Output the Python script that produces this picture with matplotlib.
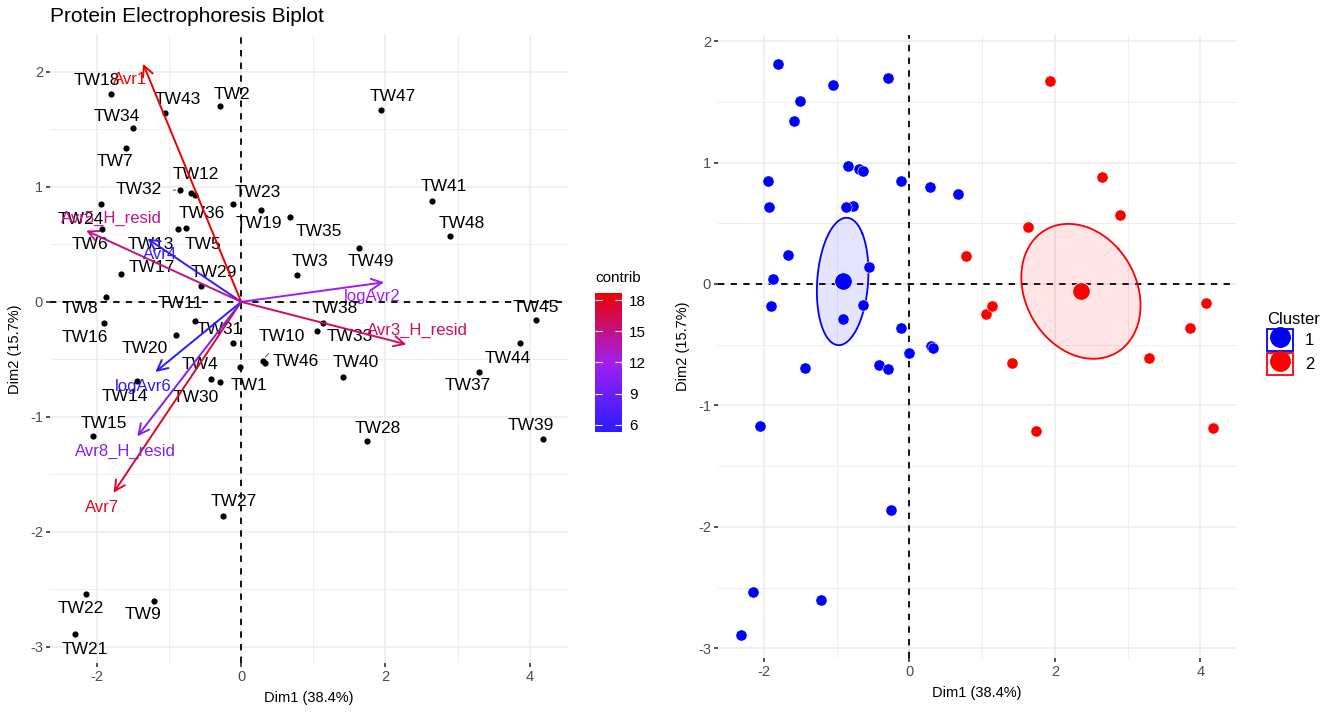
import numpy as np
import matplotlib
matplotlib.use("Agg")
from matplotlib import pyplot as plt
from matplotlib.colors import LinearSegmentedColormap, Normalize
from matplotlib.lines import Line2D
from matplotlib.patches import Rectangle
from matplotlib.legend_handler import HandlerTuple
from matplotlib.ticker import MultipleLocator

plt.rcParams['font.family'] = ['Liberation Sans', 'DejaVu Sans']
plt.rcParams['axes.unicode_minus'] = False

#--------------------------- data ---------------------------#

samples = ['TW1', 'TW2', 'TW3', 'TW4', 'TW5', 'TW6', 'TW7', 'TW8', 'TW9', 'TW10',
           'TW11', 'TW12', 'TW13', 'TW14', 'TW15', 'TW16', 'TW17', 'TW18', 'TW19', 'TW20',
           'TW21', 'TW22', 'TW23', 'TW24', 'TW27', 'TW28', 'TW29', 'TW30', 'TW31', 'TW32',
           'TW33', 'TW34', 'TW35', 'TW36', 'TW37', 'TW38', 'TW39', 'TW40', 'TW41', 'TW43',
           'TW44', 'TW45', 'TW46', 'TW47', 'TW48', 'TW49']
dim1 = [-0.01, -0.29, 0.78, -0.42, -0.77, -1.93, -1.59, -1.87, -1.21, 0.30,
        -0.64, -0.69, -0.87, -1.44, -2.05, -1.90, -1.67, -1.80, 0.28, -0.91,
        -2.31, -2.15, -0.11, -1.94, -0.25, 1.74, -0.56, -0.30, -0.11, -0.85,
        1.05, -1.50, 0.67, -0.64, 3.30, 1.14, 4.18, 1.41, 2.65, -1.05,
        3.86, 4.08, 0.33, 1.94, 2.90, 1.63]
dim2 = [-0.57, 1.70, 0.23, -0.67, 0.64, 0.63, 1.34, 0.04, -2.60, -0.51,
        -0.17, 0.95, 0.63, -0.69, -1.17, -0.18, 0.24, 1.81, 0.80, -0.29,
        -2.89, -2.54, 0.85, 0.85, -1.86, -1.21, 0.14, -0.70, -0.36, 0.97,
        -0.25, 1.51, 0.74, 0.93, -0.61, -0.18, -1.19, -0.65, 0.88, 1.64,
        -0.36, -0.16, -0.53, 1.67, 0.57, 0.47]
cluster = [1, 1, 2, 1, 1, 1, 1, 1, 1, 1,
           1, 1, 1, 1, 1, 1, 1, 1, 1, 1,
           1, 1, 1, 1, 1, 2, 1, 1, 1, 1,
           2, 1, 1, 1, 2, 2, 2, 2, 2, 1,
           2, 2, 1, 2, 2, 2]

variables = ['Avr1', 'logAvr2', 'Avr3_H_resid', 'Avr4', 'Avr5_H_resid', 'logAvr6', 'Avr7', 'Avr8_H_resid']
var_dim1 = [-1.36, 1.98, 2.29, -1.30, -2.15, -1.19, -1.77, -1.44]
var_dim2 = [2.07, 0.17, -0.37, 0.55, 0.62, -0.61, -1.66, -1.17]
contrib = [18.7, 11.8, 16.0, 5.9, 14.9, 5.3, 17.5, 10.2]

# label placement (offset pixels from the point), like ggrepel output
label_offsets = {
    'TW1': (9, -18), 'TW2': (12, 12), 'TW3': (12, 14), 'TW4': (-11, 14), 'TW5': (17, -16),
    'TW6': (-12, -15), 'TW7': (-12, -14), 'TW8': (-26, -11), 'TW9': (-11, -14), 'TW10': (19, 24),
    'TW11': (-15, 18), 'TW12': (4, 18), 'TW13': (-28, -15), 'TW14': (-12, -15), 'TW15': (11, 13),
    'TW16': (-19, -15), 'TW17': (31, 7), 'TW18': (-15, 13), 'TW19': (-3, -14), 'TW20': (-31, -13),
    'TW21': (10, -15), 'TW22': (-5, -15), 'TW23': (25, 12), 'TW24': (-20, -15), 'TW27': (11, 14),
    'TW28': (11, 13), 'TW29': (13, 13), 'TW30': (-24, -15), 'TW31': (-13, 14), 'TW32': (-41, 1),
    'TW33': (33, -6), 'TW34': (-16, 12), 'TW35': (29, -15), 'TW36': (7, -19), 'TW37': (-12, -13),
    'TW38': (11, 14), 'TW39': (-12, 13), 'TW40': (13, 14), 'TW41': (11, 14), 'TW43': (12, 14),
    'TW44': (-12, -15), 'TW45': (0, 13), 'TW46': (31, 1), 'TW47': (12, 13), 'TW48': (11, 13),
    'TW49': (12, -14),
}
label_segments = ['TW10', 'TW32']
var_offsets = {
    'Avr1': (-13, -16), 'logAvr2': (-12, -14), 'Avr3_H_resid': (11, 14), 'Avr4': (13, -16),
    'Avr5_H_resid': (25, 12), 'logAvr6': (-12, -14), 'Avr7': (-11, -15), 'Avr8_H_resid': (-12, -15),
}

dim1 = np.array(dim1)
dim2 = np.array(dim2)
cluster = np.array(cluster)

cluster_cols = {1: '#0000FF', 2: '#FF0000'}
grid_col = '#EBEBEB'


def style_axes(ax, xlim, ylim):
    ax.set_xlim(*xlim)
    ax.set_ylim(*ylim)
    for s in ax.spines.values():
        s.set_visible(False)
    ax.xaxis.set_major_locator(MultipleLocator(2))
    ax.xaxis.set_minor_locator(MultipleLocator(1))
    ax.yaxis.set_major_locator(MultipleLocator(1))
    ax.yaxis.set_minor_locator(MultipleLocator(0.5))
    ax.grid(which='major', color=grid_col, lw=1.1)
    ax.grid(which='minor', color=grid_col, lw=0.6)
    ax.set_axisbelow(True)
    ax.tick_params(which='major', length=3, width=1.2, color='#333333',
                   labelcolor='#4D4D4D', labelsize=10.5, pad=2)
    ax.tick_params(which='minor', length=0)
    ax.axhline(0, color='black', ls=(0, (3.5, 3.5)), lw=1.3, zorder=1)
    ax.axvline(0, color='black', ls=(0, (3.5, 3.5)), lw=1.3, zorder=1)
    ax.set_xlabel('Dim1 (38.4%)', fontsize=10.5, labelpad=5)
    ax.set_ylabel('Dim2 (15.7%)', fontsize=10.5, labelpad=6)


def conf_ellipse(x, y, level_t=2.4477, npoints=100):
    # same construction as ggpubr::stat_conf_ellipse (covariance of the mean)
    cov = np.cov(np.vstack([x, y])) / len(x)
    sx, sy = np.sqrt(cov[0, 0]), np.sqrt(cov[1, 1])
    r = np.clip(cov[0, 1] / (sx * sy), -1, 1)
    d = np.arccos(r)
    a = np.linspace(0, 2 * np.pi, npoints)
    ex = level_t * sx * np.cos(a + d / 2) + x.mean()
    ey = level_t * sy * np.cos(a - d / 2) + y.mean()
    return ex, ey


fig = plt.figure(figsize=(13.25, 7.15), dpi=100)

#--------------------------- biplot ---------------------------#

ax1 = fig.add_axes([50 / 1325, 1 - 663 / 715, 518 / 1325, 628 / 715])
style_axes(ax1, (-2.65, 4.53), (-3.14, 2.32))

ax1.scatter(dim1, dim2, s=20, color='black', zorder=3, lw=0)
for name, x, y in zip(samples, dim1, dim2):
    off = label_offsets[name]
    props = None
    if name in label_segments:
        props = dict(arrowstyle='-', color='#666666', lw=0.8, shrinkA=6, shrinkB=3)
    ax1.annotate(name, xy=(x, y), xytext=off, textcoords='offset pixels',
                 ha='center', va='center', fontsize=12.5, color='black',
                 arrowprops=props, zorder=4)

cmap = LinearSegmentedColormap.from_list('contrib', ['#2A1CFF', '#A020F0', '#EE0000'])
norm = Normalize(vmin=min(contrib), vmax=max(contrib))
for name, vx, vy, c in zip(variables, var_dim1, var_dim2, contrib):
    col = cmap(norm(c))
    ax1.annotate('', xy=(vx, vy), xytext=(0, 0),
                 arrowprops=dict(arrowstyle='->,head_length=0.5,head_width=0.25',
                                 color=col, lw=1.4, shrinkA=0, shrinkB=0,
                                 mutation_scale=15), zorder=5)
    ax1.annotate(name, xy=(vx, vy), xytext=var_offsets[name], textcoords='offset pixels',
                 ha='center', va='center', fontsize=12, color=col, zorder=6)

fig.text(50 / 1325, 1 - 16 / 715, 'Protein Electrophoresis Biplot', fontsize=15,
         ha='left', va='center')

# colour bar for contrib
cax = fig.add_axes([595 / 1325, 1 - 432 / 715, 27 / 1325, 139 / 715])
sm = plt.cm.ScalarMappable(cmap=cmap, norm=norm)
cb = fig.colorbar(sm, cax=cax, ticks=[6, 9, 12, 15, 18])
cb.outline.set_visible(False)
cb.ax.tick_params(color='white', direction='in', length=5, width=0.8,
                  left=True, right=True, labelsize=11, labelcolor='black', pad=5)
fig.text(595 / 1325, 1 - 278 / 715, 'contrib', fontsize=11, ha='left', va='center')

#--------------------------- cluster plot ---------------------------#

ax2 = fig.add_axes([718 / 1325, 1 - 658 / 715, 518 / 1325, 623 / 715])
style_axes(ax2, (-2.63, 4.49), (-3.08, 2.05))

handles = []
for k in [1, 2]:
    m = cluster == k
    col = cluster_cols[k]
    ex, ey = conf_ellipse(dim1[m], dim2[m])
    ax2.fill(ex, ey, color=col, alpha=0.1, lw=0, zorder=2)
    ax2.plot(ex, ey, color=col, lw=1.3, zorder=2)
    ax2.scatter(dim1[m], dim2[m], s=65, color=col, edgecolor='white', lw=0.4, zorder=3)
    ax2.scatter(dim1[m].mean(), dim2[m].mean(), s=160, color=col,
                edgecolor='white', lw=0.6, zorder=4)
    box = Rectangle((0, 0), 1, 1, facecolor='white', edgecolor=col, lw=1.3)
    dot = Line2D([], [], marker='o', ls='', color=col, markersize=14)
    handles.append((box, dot))

leg = fig.legend(handles, ['1', '2'], title='Cluster', loc='upper left',
                 bbox_to_anchor=(1260 / 1325, 1 - 305 / 715), frameon=False,
                 fontsize=12, title_fontsize=12, handlelength=1.6, handleheight=1.6,
                 handletextpad=0.7, labelspacing=0.15, borderaxespad=0,
                 handler_map={tuple: HandlerTuple(ndivide=1)})
leg._legend_box.align = 'left'

fig.savefig('out.png', dpi=100)
